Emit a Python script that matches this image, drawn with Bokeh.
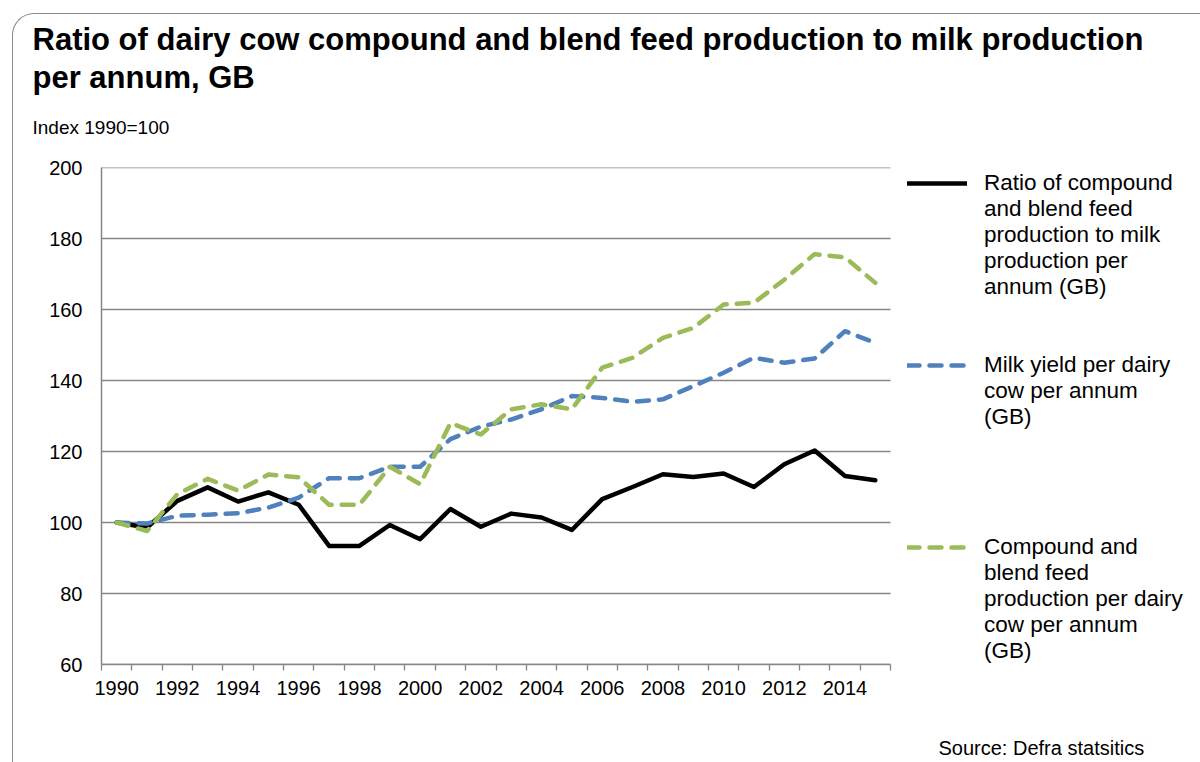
from bokeh.plotting import figure
from bokeh.models import (FixedTicker, Range1d, Title, Legend, LegendItem,
                          InlineStyleSheet)
from bokeh.embed import file_html
from bokeh.resources import INLINE

# ---------------- data ----------------
years = list(range(1990, 2016))
ratio_feed_to_milk = [100.0, 98.6, 106.1, 109.9, 105.9, 108.5, 105.0, 93.4, 93.4, 99.3,
                      95.3, 103.8, 98.8, 102.5, 101.4, 97.9, 106.6, 110.0, 113.6, 112.8,
                      113.8, 110.0, 116.4, 120.3, 113.1, 111.9]
milk_yield_per_cow = [100.0, 99.7, 101.9, 102.2, 102.6, 104.2, 107.0, 112.5, 112.5, 115.7,
                      115.7, 123.5, 127.0, 129.0, 131.9, 135.6, 135.1, 134.0, 134.7, 138.4,
                      142.2, 146.4, 145.0, 146.2, 153.9, 150.6]
feed_per_cow = [100.0, 97.6, 108.0, 112.3, 109.0, 113.5, 112.7, 105.0, 105.0, 115.7,
                110.8, 128.0, 124.8, 131.9, 133.3, 131.9, 143.6, 146.4, 152.0, 154.8,
                161.4, 161.9, 168.4, 175.6, 174.7, 167.5]
x_tick_labels = [str(y) for y in range(1990, 2015, 2)]
y_ticks = [60, 80, 100, 120, 140, 160, 180, 200]

title_lines = ["Ratio of dairy cow compound and blend feed production to milk production",
               "per annum, GB"]
subtitle = "Index 1990=100"
source = "Source: Defra statsitics"
legend_texts = [
    ["Ratio of compound", "and blend feed", "production to milk", "production per", "annum (GB)"],
    ["Milk yield per dairy", "cow per annum", "(GB)"],
    ["Compound and", "blend feed", "production per dairy", "cow per annum", "(GB)"],
]

BLACK = "#000000"
BLUE = "#4F81BD"
GREEN = "#9BBB59"
GREY = "#868686"
FONT = "Liberation Sans"

W, H = 1200, 762
FL, FR, FT, FB = 101, 890, 167, 664   # plot-area edges in page pixels

# the frame runs to the right edge (legend lives inside it); the data area
# 1989.5..2015.5 still maps onto FL..FR
X0, X1 = years[0] - 0.5, years[-1] + 0.5
x_end = X0 + (X1 - X0) * (W - FL) / (FR - FL)

border_css = InlineStyleSheet(css="""
:host::after {
  content: '';
  position: absolute;
  left: 12px; top: 13px; right: -2px; bottom: -2px;
  border-left: 1.5px solid #8C8C8C;
  border-top: 1.5px solid #8C8C8C;
  border-top-left-radius: 22px;
  pointer-events: none;
}
""")

p = figure(width=W, height=H, output_backend="svg", toolbar_location=None,
           x_range=Range1d(X0, x_end), y_range=Range1d(60, 200),
           min_border_left=FL, min_border_right=0, min_border_top=FT,
           min_border_bottom=H - FB, stylesheets=[border_css])
p.outline_line_color = None
p.background_fill_color = "white"
p.border_fill_color = "white"

# axes
p.xaxis.bounds = (X0, X1)
p.xaxis.ticker = FixedTicker(ticks=[int(t) for t in x_tick_labels],
                             minor_ticks=[y - 0.5 for y in years] + [X1])
p.xaxis.major_tick_out = 0
p.xaxis.major_tick_in = 0
p.xaxis.minor_tick_out = 6
p.xaxis.minor_tick_in = 0
p.xaxis.minor_tick_line_color = GREY
p.xaxis.minor_tick_line_width = 1.3
p.xaxis.major_label_standoff = 10
p.xaxis.major_label_text_font = FONT
p.xaxis.major_label_text_font_size = "20px"
p.xaxis.major_label_text_color = "#000000"
p.xaxis.axis_line_color = GREY
p.xaxis.axis_line_width = 1.5
p.xaxis.axis_label = " "
p.xaxis.axis_label_text_font_size = "20px"
p.xaxis.axis_label_standoff = 8

p.yaxis.ticker = FixedTicker(ticks=y_ticks)
p.yaxis.major_tick_out = 0
p.yaxis.major_tick_in = 0
p.yaxis.minor_tick_line_color = None
p.yaxis.major_label_standoff = 19
p.yaxis.major_label_text_font = FONT
p.yaxis.major_label_text_font_size = "20px"
p.yaxis.major_label_text_color = "#000000"
p.yaxis.axis_line_color = GREY
p.yaxis.axis_line_width = 1.5

p.xgrid.grid_line_color = None
p.ygrid.grid_line_color = None
# horizontal gridlines limited to the plot area
p.segment(x0=[X0] * len(y_ticks), x1=[X1] * len(y_ticks), y0=y_ticks, y1=y_ticks,
          line_color=GREY, line_width=1.3)

# series
r_ratio = p.line(years, ratio_feed_to_milk, line_color=BLACK, line_width=4.5,
                 line_join="round", line_cap="round")
r_milk = p.line(years, milk_yield_per_cow, line_color=BLUE, line_width=4.5,
                line_dash="12 10", line_join="round", line_cap="round")
r_feed = p.line(years, feed_per_cow, line_color=GREEN, line_width=4.5,
                line_dash="12 10", line_join="round", line_cap="round")
r_blank = p.line(x=[], y=[], line_alpha=0)

# titles (stacked above the frame; first added sits nearest the frame)
p.add_layout(Title(text=subtitle, align="left", offset=32 - FL, standoff=60,
                   text_font=FONT, text_font_size="19px", text_font_style="normal",
                   text_color="#000000"), "above")
p.add_layout(Title(text=title_lines[1], align="left", offset=32 - FL, standoff=-20,
                   text_font=FONT, text_font_size="31px", text_font_style="bold",
                   text_color="#000000"), "above")
p.add_layout(Title(text=title_lines[0], align="left", offset=32 - FL, standoff=22,
                   text_font=FONT, text_font_size="31px", text_font_style="bold",
                   text_color="#000000"), "above")

# source (below the x axis)
p.add_layout(Title(text=source, align="left", offset=938 - FL, standoff=8,
                   text_font=FONT, text_font_size="20px", text_font_style="normal",
                   text_color="#000000"), "below")

# legend: one row per text line, first row of each block carries the series glyph
items = []
blocks = [(r_ratio, legend_texts[0], 2), (r_milk, legend_texts[1], 4), (r_feed, legend_texts[2], 0)]
for rend, lines, gap in blocks:
    for i, t in enumerate(lines):
        items.append(LegendItem(label=t, renderers=[rend if i == 0 else r_blank]))
    for _ in range(gap):
        items.append(LegendItem(label=" ", renderers=[r_blank]))

legend = Legend(items=items, location=(907 - FL, 0), orientation="vertical",
                ncols=1, nrows=len(items),
                glyph_width=60, glyph_height=26, label_height=26, label_standoff=17,
                spacing=0, padding=0, margin=0, border_line_color=None,
                background_fill_alpha=0, label_text_font=FONT,
                label_text_font_size="22.5px", label_text_color="#000000")
p.add_layout(legend)

open("out.html", "w").write(file_html(p, INLINE))
